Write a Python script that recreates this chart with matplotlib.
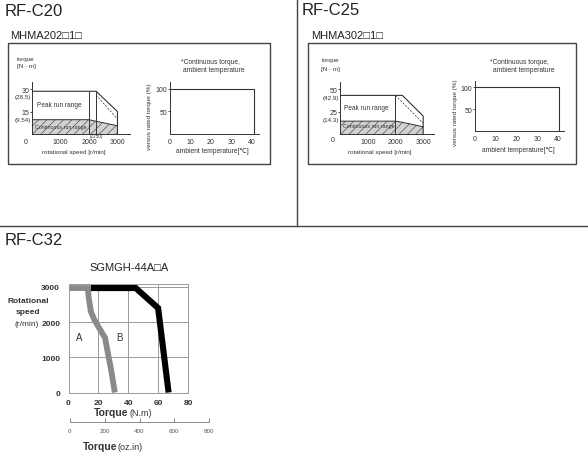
import matplotlib
matplotlib.use('Agg')
import matplotlib.pyplot as plt
import numpy as np
from matplotlib.patches import Rectangle
from matplotlib.lines import Line2D

plt.rcParams['font.family'] = ['Liberation Sans', 'DejaVu Sans']
plt.rcParams['hatch.linewidth'] = 0.5

W, H = 588, 460
INK = '#333333'

# RF-C20 : MHMA202□1□
c20_speed = [0, 2000, 2250, 3000]
c20_peak = [28.5, 28.5, 28.5, 15]
c20_cont = [9.54, 9.54, 8.5, 5.5]
c20_splits = [2000, 2250]
c20_dash_speed = [2250, 3000]
c20_dash_torque = [26, 10]
c20_yticks = [15, 30]
c20_temp = [0, 41, 41]
c20_rated = [100, 100, 0]

# RF-C25 : MHMA302□1□
c25_speed = [0, 2000, 2250, 3000]
c25_peak = [42.9, 42.9, 42.9, 20]
c25_cont = [14.3, 14.3, 13, 8]
c25_splits = [2000]
c25_dash_speed = [2000, 3000]
c25_dash_torque = [42.9, 12]
c25_yticks = [25, 50]
c25_temp = [0, 40.5, 40.5]
c25_rated = [100, 100, 0]

speed_ticks = [1000, 2000, 3000]
temp_ticks = [0, 10, 20, 30, 40]
rated_ticks = [50, 100]

# RF-C32 : SGMGH-44A□A
a_torque = [0, 13, 13.5, 15, 17.5, 21, 24.5, 26, 28.5, 31]
a_speed = [2970, 2970, 2700, 2300, 2050, 1800, 1550, 1200, 650, 0]
b_torque = [15, 45, 60, 67]
b_speed = [2970, 2970, 2400, 0]
nm_ticks = [0, 20, 40, 60, 80]
rpm_ticks = [0, 1000, 2000, 3000]
ozin_ticks = [0, 200, 400, 600, 800]

fig = plt.figure(figsize=(W / 100, H / 100), dpi=100)


def axes_px(x0, y0, x1, y1):
    return fig.add_axes([x0 / W, 1 - y1 / H, (x1 - x0) / W, (y1 - y0) / H])


def ftext(x, y, s, **kw):
    kw.setdefault('ha', 'center')
    kw.setdefault('va', 'center')
    kw.setdefault('color', INK)
    fig.text(x / W, 1 - y / H, s, **kw)


def speed_torque(ax, speed, peak, cont, splits, dash_s, dash_t, xmax, ymax, yticks):
    ax.set_xlim(0, xmax)
    ax.set_ylim(0, ymax)
    ax.fill_between(speed, 0, cont, facecolor='#d2d2d2', edgecolor='#555555',
                    hatch='////', linewidth=0)
    ax.plot(speed, cont, color=INK, lw=0.7)
    ax.plot(speed + [speed[-1]], peak + [0], color=INK, lw=0.8)
    ax.vlines(splits, 0, np.interp(splits, speed, peak), color=INK, lw=0.7)
    ax.plot(dash_s, dash_t, color=INK, lw=0.5, ls=(0, (3, 2)))
    for s in ['top', 'right']:
        ax.spines[s].set_visible(False)
    for s in ['left', 'bottom']:
        ax.spines[s].set_color(INK)
        ax.spines[s].set_linewidth(0.7)
    ax.set_xticks(speed_ticks)
    ax.set_yticks(yticks)
    ax.tick_params(axis='x', length=0, labelsize=5, pad=3, labelcolor=INK)
    ax.tick_params(axis='y', length=1.5, width=0.6, labelsize=5, pad=0.5,
                   labelcolor=INK, color=INK)
    ax.patch.set_alpha(0)


def temp_chart(ax, temp, rated, xmax, ymax):
    ax.set_xlim(0, xmax)
    ax.set_ylim(0, ymax)
    ax.plot(temp, rated, color=INK, lw=0.8)
    for s in ['top', 'right']:
        ax.spines[s].set_visible(False)
    for s in ['left', 'bottom']:
        ax.spines[s].set_color(INK)
        ax.spines[s].set_linewidth(0.7)
    ax.set_xticks(temp_ticks)
    ax.set_yticks(rated_ticks)
    ax.tick_params(axis='x', length=0, labelsize=5, pad=3, labelcolor=INK)
    ax.tick_params(axis='y', length=1.5, width=0.6, labelsize=5, pad=0.5,
                   labelcolor=INK, color=INK)
    ax.patch.set_alpha(0)


# panel dividers
fig.add_artist(Line2D([297 / W, 297 / W], [1, 1 - 227 / H], color='#444444', lw=1))
fig.add_artist(Line2D([0, 1], [1 - 227 / H, 1 - 227 / H], color='#444444', lw=1))

# ---------- RF-C20 ----------
ftext(5, 16, 'RF-C20', ha='left', va='baseline', fontsize=12, color='#222222')
ftext(10, 39, 'MHMA202□1□', ha='left', va='baseline', fontsize=8, color='#222222')
fig.add_artist(Rectangle((8 / W, 1 - 165 / H), 262 / W, 121 / H, fill=False,
                         edgecolor='#444444', lw=1, transform=fig.transFigure))
ftext(17, 59, 'torque', ha='left', fontsize=4.5)
ftext(17, 67, '[N · m]', ha='left', fontsize=4.5)
ax = axes_px(32, 83, 130, 135)
speed_torque(ax, c20_speed, c20_peak, c20_cont, c20_splits,
             c20_dash_speed, c20_dash_torque, 3440, 34.7, c20_yticks)
ax.text(0.05, 0.56, 'Peak run range', transform=ax.transAxes, fontsize=4.7,
        color=INK, va='center')
ax.text(0.03, 0.15, 'Continuous run range', transform=ax.transAxes, fontsize=3.8,
        color=INK, va='center', family=['Liberation Sans Narrow', 'Liberation Sans'])
ftext(31, 97, f'({c20_peak[0]})', ha='right', fontsize=4.5)
ftext(31, 120.5, f'({c20_cont[0]})', ha='right', fontsize=4.5)
ftext(26, 142, '0', fontsize=5)
ftext(97, 137, f'({c20_splits[1]})', fontsize=3.3)
ftext(73.7, 152.7, 'rotational speed [r/min]', fontsize=4.5)

ftext(210, 62.3, '*Continuous torque,', fontsize=4.8)
ftext(214, 70.7, 'ambient temperature', fontsize=4.8)
ax = axes_px(170, 83, 259, 135)
temp_chart(ax, c20_temp, c20_rated, 43.6, 115.5)
ftext(150, 117, 'versus rated torque (%)', rotation=90, fontsize=4.6)
ftext(212.5, 151.7, 'ambient temperature[℃]', fontsize=4.8)

# ---------- RF-C25 ----------
ftext(302, 15, 'RF-C25', ha='left', va='baseline', fontsize=12, color='#222222')
ftext(311, 39, 'MHMA302□1□', ha='left', va='baseline', fontsize=8, color='#222222')
fig.add_artist(Rectangle((308 / W, 1 - 165 / H), 268 / W, 121 / H, fill=False,
                         edgecolor='#444444', lw=1, transform=fig.transFigure))
ftext(321.7, 60.7, 'torque', ha='left', fontsize=4.5)
ftext(321, 69, '[N · m]', ha='left', fontsize=4.5)
ax = axes_px(340, 83, 434, 135)
speed_torque(ax, c25_speed, c25_peak, c25_cont, c25_splits,
             c25_dash_speed, c25_dash_torque, 3390, 57.8, c25_yticks)
ax.text(0.04, 0.5, 'Peak run range', transform=ax.transAxes, fontsize=4.7,
        color=INK, va='center')
ax.text(0.03, 0.16, 'Continuous run range', transform=ax.transAxes, fontsize=3.8,
        color=INK, va='center', family=['Liberation Sans Narrow', 'Liberation Sans'])
ftext(339, 98.3, f'({c25_peak[0]})', ha='right', fontsize=4.5)
ftext(339, 120.7, f'({c25_cont[0]})', ha='right', fontsize=4.5)
ftext(332.7, 140, '0', fontsize=5)
ftext(379.3, 152.7, 'rotational speed [r/min]', fontsize=4.5)

ftext(519, 62.3, '*Continuous torque,', fontsize=4.8)
ftext(523.5, 70, 'ambient temperature', fontsize=4.8)
ax = axes_px(475, 82, 564, 132)
temp_chart(ax, c25_temp, c25_rated, 42.8, 114)
ftext(456, 112.5, 'versus rated torque (%)', rotation=90, fontsize=4.6)
ftext(518.3, 151, 'ambient temperature[℃]', fontsize=4.8)

# ---------- RF-C32 ----------
ftext(5, 245, 'RF-C32', ha='left', va='baseline', fontsize=12, color='#222222')
ftext(128.7, 270.7, 'SGMGH-44A□A', va='baseline', fontsize=8, color='#222222')

ax = axes_px(68.5, 285, 188, 393.5)
ax.set_xlim(0, 80)
ax.set_ylim(0, 3085)
ax.set_xticks(nm_ticks)
ax.set_yticks(rpm_ticks)
ax.grid(True, color='#9a9a9a', lw=0.7)
ax.set_axisbelow(True)
for s in ax.spines.values():
    s.set_color('#9a9a9a')
    s.set_linewidth(0.7)
ax.tick_params(length=0, labelsize=6, labelcolor=INK)
ax.tick_params(axis='y', pad=6)
ax.tick_params(axis='x', pad=4.5)
for lab in ax.get_xticklabels() + ax.get_yticklabels():
    lab.set_fontweight('bold')
ax.plot(a_torque, a_speed, color='#8a8a8a', lw=4.2,
        solid_joinstyle='miter', solid_capstyle='butt')
ax.plot(b_torque, b_speed, color='#000000', lw=4.4,
        solid_joinstyle='miter', solid_capstyle='butt')
ax.text(7, 1580, 'A', fontsize=7, color=INK, ha='center', va='center')
ax.text(34, 1580, 'B', fontsize=7, color=INK, ha='center', va='center')

ftext(28, 301.7, 'Rotational', fontsize=6, fontweight='bold')
ftext(28, 312.7, 'speed', fontsize=6, fontweight='bold')
ftext(27, 324, '(r/min)', fontsize=6)

ftext(128, 413, 'Torque', ha='right', fontsize=7.5, fontweight='bold')
ftext(129, 413.5, '(N.m)', ha='left', fontsize=6.5)

ax2 = axes_px(70, 413, 209, 423)
ax2.set_xlim(0, 800)
ax2.set_xticks(ozin_ticks)
ax2.set_yticks([])
for s in ['top', 'left', 'right']:
    ax2.spines[s].set_visible(False)
ax2.spines['bottom'].set_color('#777777')
ax2.spines['bottom'].set_linewidth(0.6)
ax2.tick_params(axis='x', direction='in', length=3, width=0.6, color='#777777',
                labelsize=4.5, labelcolor='#555555', pad=4.5)
ax2.patch.set_alpha(0)

ftext(117, 447, 'Torque', ha='right', fontsize=7.5, fontweight='bold')
ftext(118, 447.5, '(oz.in)', ha='left', fontsize=6.5)

fig.savefig('out.png', dpi=100)
